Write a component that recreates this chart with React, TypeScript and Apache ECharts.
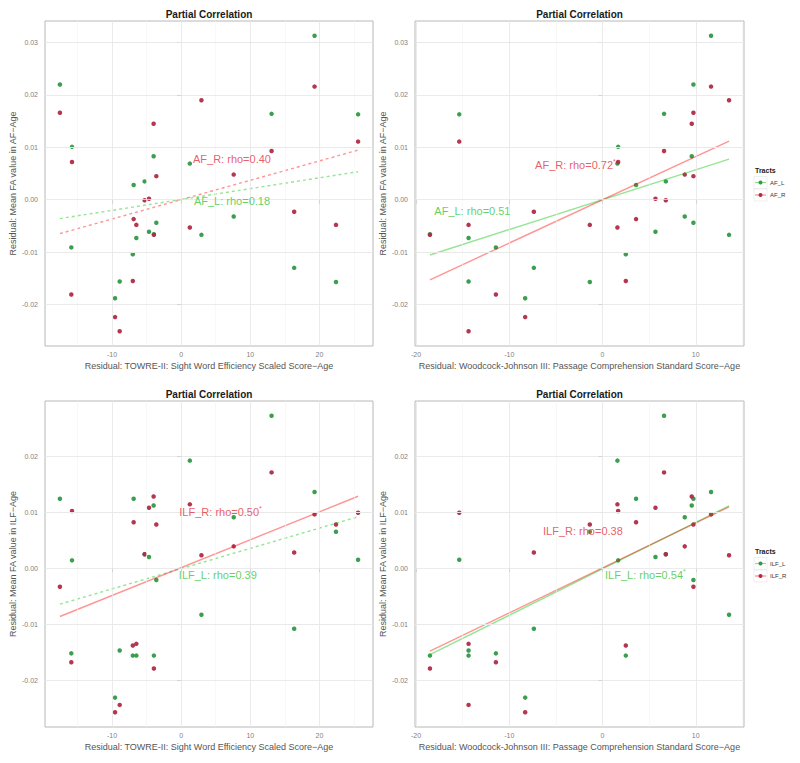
import React, { useEffect, useRef } from "react";
import * as echarts from "echarts";

// ---- data (one entry per subject, same order in every array) ----
const towreScore = [-17.55, -15.8, -15.9, -9.57, -8.9, -7.0, -6.88, -6.49, -5.29, -4.66, -3.99, -3.95, -3.6, 1.25, 2.93, 7.6, 13.08, 16.35, 19.3, 22.4, 25.6];
const wjScore = [9.75, 1.68, -11.43, -8.29, -14.36, 2.5, 3.6, -14.36, 6.79, 5.68, 9.57, -18.5, 9.75, 1.6, 13.57, 8.82, 6.6, -7.36, 11.64, -1.36, -15.36];
const afL = [0.022, 0.0101, -0.0091, -0.0188, -0.0156, -0.0104, 0.0028, -0.0073, 0.0035, -0.0061, 0.0083, -0.0066, -0.0044, 0.0069, -0.0067, -0.0032, 0.0164, -0.013, 0.0313, -0.0157, 0.0163];
const afR = [0.0166, 0.0072, -0.0181, -0.0224, -0.0251, -0.0155, -0.0037, -0.0048, -0.0001, 0.0002, 0.0145, -0.0067, 0.0045, -0.0053, 0.019, 0.0048, 0.0093, -0.0023, 0.0216, -0.0048, 0.0111];
const ilfL = [0.0124, 0.0014, -0.0152, -0.0231, -0.0147, -0.0156, 0.0124, -0.0156, 0.0025, 0.002, 0.0112, -0.0156, -0.0021, 0.0192, -0.0083, 0.0091, 0.0272, -0.0108, 0.0136, 0.0065, 0.0015];
const ilfR = [-0.0033, 0.0102, -0.0168, -0.0257, -0.0244, -0.0138, 0.0082, -0.0135, 0.0025, 0.0108, 0.0128, -0.0179, 0.0078, 0.0114, 0.0023, 0.0039, 0.0171, 0.0028, 0.0096, 0.0078, 0.0099];

// tick values
const towreTicks = [-10, 0, 10, 20];
const towreMinor = [-15, -5, 5, 15, 25];
const wjTicks = [-20, -10, 0, 10];
const wjMinor = [-15, -5, 5, 15];
const afTicks = [-0.02, -0.01, 0, 0.01, 0.02, 0.03];
const ilfTicks = [-0.02, -0.01, 0, 0.01, 0.02];
const faMinor = [-0.025, -0.015, -0.005, 0.005, 0.015, 0.025];

// annotation texts
const rhoTexts = [
  ["AF_L: rho=0.18", "AF_R: rho=0.40"],
  ["AF_L: rho=0.51", "AF_R: rho=0.72{s|*}"],
  ["ILF_L: rho=0.39", "ILF_R: rho=0.50{s|*}"],
  ["ILF_L: rho=0.54{s|*}", "ILF_R: rho=0.38"],
];
// annotation anchor points in data units [x, y]
const rhoAnchorsL = [[7.35, -0.0003], [-13.95, -0.0022], [5.3, -0.0013], [4.6, -0.0012]];
const rhoAnchorsR = [[7.35, 0.0078], [-2.9, 0.0067], [5.7, 0.0101], [-2.1, 0.0067]];
// significance -> dashed (false) or solid (true)
const solidL = [false, true, false, true];
const solidR = [false, true, true, true];

const FONT = "'Liberation Sans', Arial, Helvetica, sans-serif";
const PT_GREEN = "#329a47";
const PT_RED = "#b02b47";
const TX_GREEN = "#3cc43c";
const TX_RED = "#e5333d";
const LN_GREEN = "#00c000";
const LN_RED = "#ff0000";

const X_TITLE_TOWRE = "Residual: TOWRE-II: Sight Word Efficiency Scaled Score\u2212Age";
const X_TITLE_WJ = "Residual: Woodcock-Johnson III: Passage Comprehension Standard Score\u2212Age";
const Y_TITLE_AF = "Residual: Mean FA value in AF\u2212Age";
const Y_TITLE_ILF = "Residual: Mean FA value in ILF\u2212Age";

const GRIDS = [
  { left: 45, top: 21, width: 328, height: 325 },
  { left: 415, top: 21, width: 329, height: 325 },
  { left: 45, top: 401, width: 328, height: 326 },
  { left: 415, top: 401, width: 329, height: 326 },
];

function expand(vals: number[]) {
  const lo = Math.min(...vals);
  const hi = Math.max(...vals);
  const pad = (hi - lo) * 0.05;
  return [lo - pad, hi + pad];
}

function lmLine(xs: number[], ys: number[]) {
  const n = xs.length;
  const mx = xs.reduce((a, b) => a + b, 0) / n;
  const my = ys.reduce((a, b) => a + b, 0) / n;
  let sxx = 0;
  let sxy = 0;
  for (let i = 0; i < n; i++) {
    sxx += (xs[i] - mx) * (xs[i] - mx);
    sxy += (xs[i] - mx) * (ys[i] - my);
  }
  const b = sxy / sxx;
  const a = my - b * mx;
  const lo = Math.min(...xs);
  const hi = Math.max(...xs);
  return [[lo, a + b * lo], [hi, a + b * hi]];
}

const zip = (xs: number[], ys: number[]) => xs.map((x, i) => [x, ys[i]]);

export default function App() {
  const ref = useRef<HTMLDivElement>(null);
  useEffect(() => {
    if (!ref.current) return;
    const chart = echarts.init(ref.current, null, { renderer: "svg" });

    const panels = [
      { xs: towreScore, yl: afL, yr: afR, names: ["AF_L", "AF_R"], xt: towreTicks, xm: towreMinor, yt: afTicks, xTitle: X_TITLE_TOWRE, yTitle: Y_TITLE_AF },
      { xs: wjScore, yl: afL, yr: afR, names: ["AF_L", "AF_R"], xt: wjTicks, xm: wjMinor, yt: afTicks, xTitle: X_TITLE_WJ, yTitle: Y_TITLE_AF },
      { xs: towreScore, yl: ilfL, yr: ilfR, names: ["ILF_L", "ILF_R"], xt: towreTicks, xm: towreMinor, yt: ilfTicks, xTitle: X_TITLE_TOWRE, yTitle: Y_TITLE_ILF },
      { xs: wjScore, yl: ilfL, yr: ilfR, names: ["ILF_L", "ILF_R"], xt: wjTicks, xm: wjMinor, yt: ilfTicks, xTitle: X_TITLE_WJ, yTitle: Y_TITLE_ILF },
    ];

    const xAxis: any[] = [];
    const yAxis: any[] = [];
    const series: any[] = [];
    const graphic: any[] = [];

    panels.forEach((p, k) => {
      const [xmin, xmax] = expand(p.xs);
      const [ymin, ymax] = expand([...p.yl, ...p.yr]);
      xAxis.push({
        gridIndex: k,
        type: "value",
        min: xmin,
        max: xmax,
        splitLine: { show: false },
        axisLine: { show: false },
        axisTick: { show: true, length: 4, lineStyle: { color: "#8a8a8a", width: 1 }, customValues: p.xt },
        axisLabel: { customValues: p.xt, fontSize: 7, color: "#7f7f7f", margin: 5, fontFamily: FONT, formatter: (v: number) => String(Math.round(v)) },
        name: p.xTitle,
        nameLocation: "middle",
        nameGap: 15,
        nameTextStyle: { fontSize: 9, color: "#555555", fontFamily: FONT },
      });
      yAxis.push({
        gridIndex: k,
        type: "value",
        min: ymin,
        max: ymax,
        splitLine: { show: false },
        axisLine: { show: false },
        axisTick: { show: true, length: 4, lineStyle: { color: "#8a8a8a", width: 1 }, customValues: p.yt },
        axisLabel: { customValues: p.yt, fontSize: 7, color: "#7f7f7f", margin: 7, fontFamily: FONT, formatter: (v: number) => v.toFixed(2) },
        name: p.yTitle,
        nameLocation: "middle",
        nameGap: 28,
        nameRotate: 90,
        nameTextStyle: { fontSize: 9, color: "#555555", fontFamily: FONT },
      });

      const major = "#e6e6e6";
      const minor = "#f4f4f4";
      series.push({
        type: "line",
        name: "grid" + k,
        xAxisIndex: k,
        yAxisIndex: k,
        data: [],
        silent: true,
        z: 0,
        markLine: {
          silent: true,
          symbol: ["none", "none"],
          label: { show: false },
          emphasis: { disabled: true },
          data: [
            ...p.xm.map((v) => ({ xAxis: v, lineStyle: { color: minor, width: 0.6, type: "solid" } })),
            ...faMinor.map((v) => ({ yAxis: v, lineStyle: { color: minor, width: 0.6, type: "solid" } })),
            ...p.xt.map((v) => ({ xAxis: v, lineStyle: { color: major, width: 0.8, type: "solid" } })),
            ...p.yt.map((v) => ({ yAxis: v, lineStyle: { color: major, width: 0.8, type: "solid" } })),
          ],
        },
      });

      const fits = [
        { ys: p.yl, color: LN_GREEN, solid: solidL[k] },
        { ys: p.yr, color: LN_RED, solid: solidR[k] },
      ];
      [p.yl, p.yr].forEach((ys, j) => {
        series.push({
          type: "scatter",
          name: p.names[j],
          xAxisIndex: k,
          yAxisIndex: k,
          data: zip(p.xs, ys),
          symbol: "circle",
          symbolSize: 4.5,
          itemStyle: { color: j === 0 ? PT_GREEN : PT_RED, opacity: 0.95 },
          silent: true,
          z: 2,
        });
      });
      fits.forEach((f, j) => {
        series.push({
          type: "line",
          name: p.names[j] + " fit",
          xAxisIndex: k,
          yAxisIndex: k,
          data: lmLine(p.xs, f.ys),
          showSymbol: false,
          symbol: "none",
          silent: true,
          lineStyle: { color: f.color, opacity: 0.42, width: 1.4, type: f.solid ? "solid" : [3, 3] },
          z: 3,
        });
      });
      [rhoAnchorsL[k], rhoAnchorsR[k]].forEach((pos, j) => {
        const color = j === 0 ? TX_GREEN : TX_RED;
        series.push({
          type: "scatter",
          name: p.names[j] + " label",
          xAxisIndex: k,
          yAxisIndex: k,
          data: [pos],
          symbolSize: 0,
          silent: true,
          z: 5,
          label: {
            show: true,
            position: "inside",
            formatter: rhoTexts[k][j],
            color,
            fontSize: 11,
            fontFamily: FONT,
            rich: { s: { fontSize: 7, color, fontFamily: FONT, verticalAlign: "top", padding: [0, 0, 6, 0] } },
          },
        });
      });

      const g = GRIDS[k];
      graphic.push({
        type: "text",
        x: g.left + g.width / 2,
        y: g.top - 7,
        style: { text: "Partial Correlation", fontSize: 10, fontWeight: "bold", fontFamily: FONT, fill: "#1a1a1a", align: "center", verticalAlign: "middle" },
      });
    });

    // legends for the right-hand panels
    const legends = [
      { top: 170, names: ["AF_L", "AF_R"] },
      { top: 551, names: ["ILF_L", "ILF_R"] },
    ];
    legends.forEach((lg) => {
      graphic.push({
        type: "text",
        x: 755,
        y: lg.top,
        style: { text: "Tracts", fontSize: 7, fontWeight: "bold", fontFamily: FONT, fill: "#222", align: "left", verticalAlign: "middle" },
      });
      lg.names.forEach((nm, j) => {
        const cy = lg.top + 12.5 * (j + 1);
        graphic.push({
          type: "rect",
          shape: { x: 754, y: cy - 6, width: 13, height: 12 },
          style: { fill: "#ffffff", stroke: "#e4e4e4", lineWidth: 0.6 },
        });
        graphic.push({
          type: "line",
          shape: { x1: 755, y1: cy, x2: 766, y2: cy },
          style: { stroke: j === 0 ? LN_GREEN : LN_RED, opacity: 0.45, lineWidth: 1.2 },
        });
        graphic.push({
          type: "circle",
          shape: { cx: 760.5, cy, r: 2 },
          style: { fill: j === 0 ? PT_GREEN : PT_RED },
        });
        graphic.push({
          type: "text",
          x: 770,
          y: cy,
          style: { text: nm, fontSize: 6, fontFamily: FONT, fill: "#333", align: "left", verticalAlign: "middle" },
        });
      });
    });

    chart.setOption({
      animation: false,
      backgroundColor: "#ffffff",
      grid: GRIDS.map((g) => ({ ...g, show: true, borderColor: "#b8b8b8", borderWidth: 1, backgroundColor: "#ffffff", containLabel: false })),
      xAxis,
      yAxis,
      series,
      graphic,
    });
    return () => chart.dispose();
  }, []);

  return <div ref={ref} style={{ position: "absolute", left: 0, top: 0, width: 800, height: 763 }} />;
}
